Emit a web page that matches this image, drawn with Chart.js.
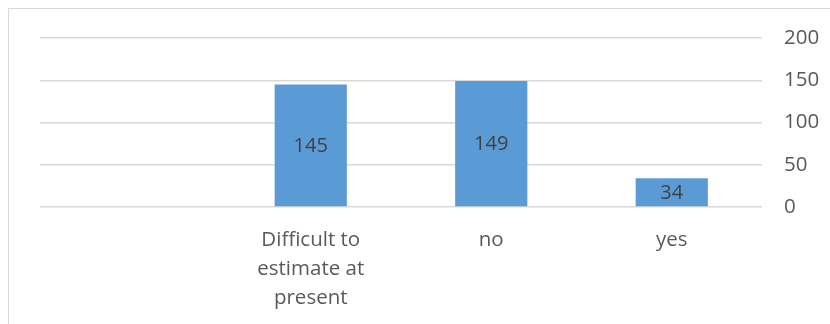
<!DOCTYPE html>
<html>
<head>
<meta charset="utf-8">
<script src="https://cdn.jsdelivr.net/npm/chart.js@4"></script>
<style>
  html, body { margin: 0; padding: 0; background: #fff; }
  #wrap { position: relative; width: 830px; height: 324px; overflow: hidden; }
  #frame { position: absolute; left: 8px; top: 8px; width: 840px; height: 340px;
           border: 1.5px solid #d9d9d9; box-sizing: border-box; }
  canvas { position: absolute; left: 0; top: 0; }
</style>
</head>
<body>
<div id="wrap">
  <div id="frame"></div>
  <canvas id="answerChart" width="830" height="324"></canvas>
</div>
<script>
// categories and counts
const categories = ['', ['Difficult to', 'estimate at', 'present'], 'no', 'yes'];
const counts = [null, 145, 149, 34];
const yTicks = [0, 50, 100, 150, 200];

const fontFamily = '"Open Sans", sans-serif';

// value written in the middle of each bar
const barLabels = {
    id: 'barLabels',
    afterDatasetsDraw(chart) {
        const { ctx } = chart;
        const meta = chart.getDatasetMeta(0);
        ctx.save();
        ctx.fillStyle = '#404040';
        ctx.font = '20px ' + fontFamily;
        ctx.textAlign = 'center';
        ctx.textBaseline = 'middle';
        meta.data.forEach((bar, i) => {
            const v = counts[i];
            if (v === null) return;
            ctx.fillText(String(v), bar.x, (bar.y + bar.base) / 2 + 1);
        });
        ctx.restore();
    }
};

const config = {
    type: 'bar',
    data: {
        labels: categories,
        datasets: [{
            data: counts,
            backgroundColor: '#5b9bd5',
            borderWidth: 0,
            categoryPercentage: 1,
            barPercentage: 0.4
        }]
    },
    options: {
        responsive: false,
        animation: false,
        layout: { padding: { left: 40, top: 38, right: 0, bottom: 0 } },
        plugins: {
            legend: { display: false },
            tooltip: { enabled: false }
        },
        scales: {
            x: {
                grid: { display: false, drawTicks: false },
                border: { display: false },
                ticks: {
                    color: '#595959',
                    padding: 19,
                    maxRotation: 0,
                    autoSkip: false,
                    font: { family: fontFamily, size: 20.5, lineHeight: 1.4 }
                },
                afterFit(scale) { scale.height = 117; }
            },
            y: {
                position: 'right',
                min: 0,
                max: 200,
                afterBuildTicks(scale) { scale.ticks = yTicks.map(v => ({ value: v })); },
                grid: { color: '#d9d9d9', lineWidth: 1.5, drawTicks: false },
                border: { display: false },
                ticks: {
                    color: '#595959',
                    padding: 22,
                    font: { family: fontFamily, size: 20.5 }
                },
                afterFit(scale) { scale.width = 68; }
            }
        }
    },
    plugins: [barLabels]
};

const myChart = new Chart(document.getElementById('answerChart'), config);
</script>
</body>
</html>
